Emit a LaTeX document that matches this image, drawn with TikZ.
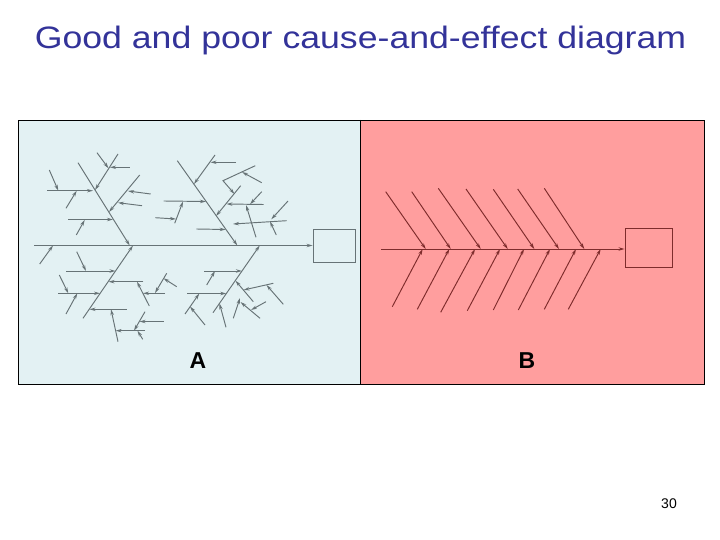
\documentclass[tikz,border=0pt]{standalone}
\usepackage{graphicx}
\usepackage{fontspec}
\setmainfont{Liberation Sans}
\usetikzlibrary{arrows.meta}
\definecolor{PanelBlue}{HTML}{E3F1F3}
\definecolor{PanelPink}{HTML}{FF9E9E}
\definecolor{BoneGray}{HTML}{677376}
\definecolor{BoneRed}{HTML}{7E2C2C}
\definecolor{TitleBlue}{HTML}{333399}

\begin{document}
\begin{tikzpicture}[x=1pt, y=-1pt,
  bone/.style={-{Stealth[length=6pt,width=3.4pt]}, line width=0.95pt},
  boneA/.style={bone, draw=BoneGray},
  boneB/.style={bone, draw=BoneRed},
  effect/.style={rectangle, line width=0.9pt, inner sep=0pt},
  panel/.style={draw=black, line width=0.8pt},
  tag/.style={font=\fontsize{23}{27}\selectfont\bfseries}
]
\useasboundingbox (0,0) rectangle (720,540);

% title and page number
\node[anchor=base, text=TitleBlue, font=\fontsize{31}{36}\selectfont] (title) at (360.5,49)
  {\scalebox{1.15}[1]{Good and poor cause-and-effect diagram}};
\node[font=\fontsize{14}{16}\selectfont] (page) at (669,504) {30};

% the two panels
\fill[PanelBlue] (18,120) rectangle (360,384);
\fill[PanelPink] (360,120) rectangle (704,384);
\draw[panel] (18,120) rectangle (704,384);
\draw[panel] (360,120) -- (360,384);
\node[tag] (tagA) at (198,361) {A};
\node[tag] (tagB) at (527,361) {B};

% ---- A: good diagram ----
\node[effect, draw=BoneGray, minimum width=42pt, minimum height=33pt] (effA) at (334,245.5) {};
\coordinate (spA) at (34,245.5);
\draw[boneA] (spA) -- (effA.west);
% main bones
\draw[boneA] (78,162.7) -- (129.7,245.5);
\draw[boneA] (177.3,160.7) -- (237.3,245.5);
\draw[boneA] (83,318.3) -- (133,245.5);
\draw[boneA] (213,312.7) -- (259.7,245.5);
\draw[boneA] (39.7,264) -- (53,245.5);
% upper left bone
\draw[boneA] (47.3,190.7) -- (93,190.7);
\draw[boneA] (49.3,170) -- (58.3,190.7);
\draw[boneA] (66,208.3) -- (76.7,190.7);
\draw[boneA] (118,154) -- (95,190);
\draw[boneA] (97,152.7) -- (108.5,168.3);
\draw[boneA] (129.7,167.3) -- (110,167.3);
\draw[boneA] (68,219.5) -- (113,219.5);
\draw[boneA] (76.3,235) -- (84.7,220);
\draw[boneA] (139.7,175) -- (109,212);
\draw[boneA] (150.7,194) -- (128,191);
\draw[boneA] (142,205.7) -- (118,202.7);
% upper right bone
\draw[boneA] (215,155) -- (194,184);
\draw[boneA] (236,162.3) -- (210.5,162.3);
\draw[boneA] (163.7,201) -- (206,201.5);
\draw[boneA] (174.7,223.3) -- (183,201.5);
\draw[boneA] (155.3,217.7) -- (176,219);
\draw[boneA] (196.3,229) -- (225.7,229.5);
\draw[boneA] (240.7,185.7) -- (216,216);
\draw[boneA] (263.7,204.5) -- (226.5,204);
\draw[boneA] (255.3,165.7) -- (223,180.7) -- (234.5,194);
\draw[boneA] (261.7,182.7) -- (242,172);
\draw[boneA] (256,237.3) -- (246,205);
\draw[boneA] (286.7,220.7) -- (233,224);
\draw[boneA] (288,201) -- (271.3,219.3);
\draw[boneA] (276.3,235) -- (270,221.5);
\draw[boneA] (261.7,191.7) -- (250,204.3);
% lower left bone
\draw[boneA] (66,271) -- (115.5,271);
\draw[boneA] (76.7,251.7) -- (86,271);
\draw[boneA] (58.3,293.3) -- (100,293.3);
\draw[boneA] (59.3,275) -- (68.3,293.3);
\draw[boneA] (66,314) -- (77.3,293.3);
\draw[boneA] (143.3,281.7) -- (108.5,281.7);
\draw[boneA] (149.3,306) -- (137,281.7);
\draw[boneA] (165,293.3) -- (143,293.3);
\draw[boneA] (166.7,273.3) -- (155,293);
\draw[boneA] (176.7,286.7) -- (163.5,278.3);
\draw[boneA] (126.7,309.3) -- (89.5,309.3);
\draw[boneA] (118,341.7) -- (111,309.3);
\draw[boneA] (145,330.7) -- (115.6,330.7);
\draw[boneA] (145,311.7) -- (134,330.7);
\draw[boneA] (163.7,321.5) -- (139.5,321.5);
\draw[boneA] (142.7,339.3) -- (137.5,330.7);
% lower right bone
\draw[boneA] (204,271) -- (242,271);
\draw[boneA] (206.7,285) -- (215,271);
\draw[boneA] (187.3,293.5) -- (226.3,293.5);
\draw[boneA] (185,314) -- (199.3,293.5);
\draw[boneA] (205,325) -- (190,306.5);
\draw[boneA] (226,327.3) -- (219.5,303.5);
\draw[boneA] (253.3,301.7) -- (235.5,280.7);
\draw[boneA] (273.3,283.3) -- (243.5,290);
\draw[boneA] (283.3,304.3) -- (266.5,285);
\draw[boneA] (233.3,318.3) -- (240,298);
\draw[boneA] (260,318.3) -- (240.5,302);
\draw[boneA] (266,301.7) -- (251,310);

% ---- B: poor diagram ----
\node[effect, draw=BoneRed, minimum width=47pt, minimum height=39pt] (effB) at (648.5,247.5) {};
\coordinate (spB) at (381,249);
\draw[boneB] (spB) -- (spB -| effB.west);
% upper bones
\draw[boneB] (385.7,191.7) -- (425.7,249);
\draw[boneB] (411.7,191.7) -- (450.7,249);
\draw[boneB] (438.3,188.3) -- (480.7,249);
\draw[boneB] (466,189) -- (507.7,249);
\draw[boneB] (493.3,189.3) -- (534.3,249);
\draw[boneB] (517.7,189) -- (559,249);
\draw[boneB] (544.3,188.3) -- (584.3,249);
% lower bones
\draw[boneB] (392.3,306.7) -- (422.7,249);
\draw[boneB] (417.3,309.3) -- (449.3,249);
\draw[boneB] (440.7,312.3) -- (475,249);
\draw[boneB] (467.3,310.7) -- (500,249);
\draw[boneB] (493.3,310) -- (524,249);
\draw[boneB] (518.3,310) -- (550,249);
\draw[boneB] (544.3,309.3) -- (576,249);
\draw[boneB] (568.3,309.3) -- (600.7,249);
\end{tikzpicture}
\end{document}
